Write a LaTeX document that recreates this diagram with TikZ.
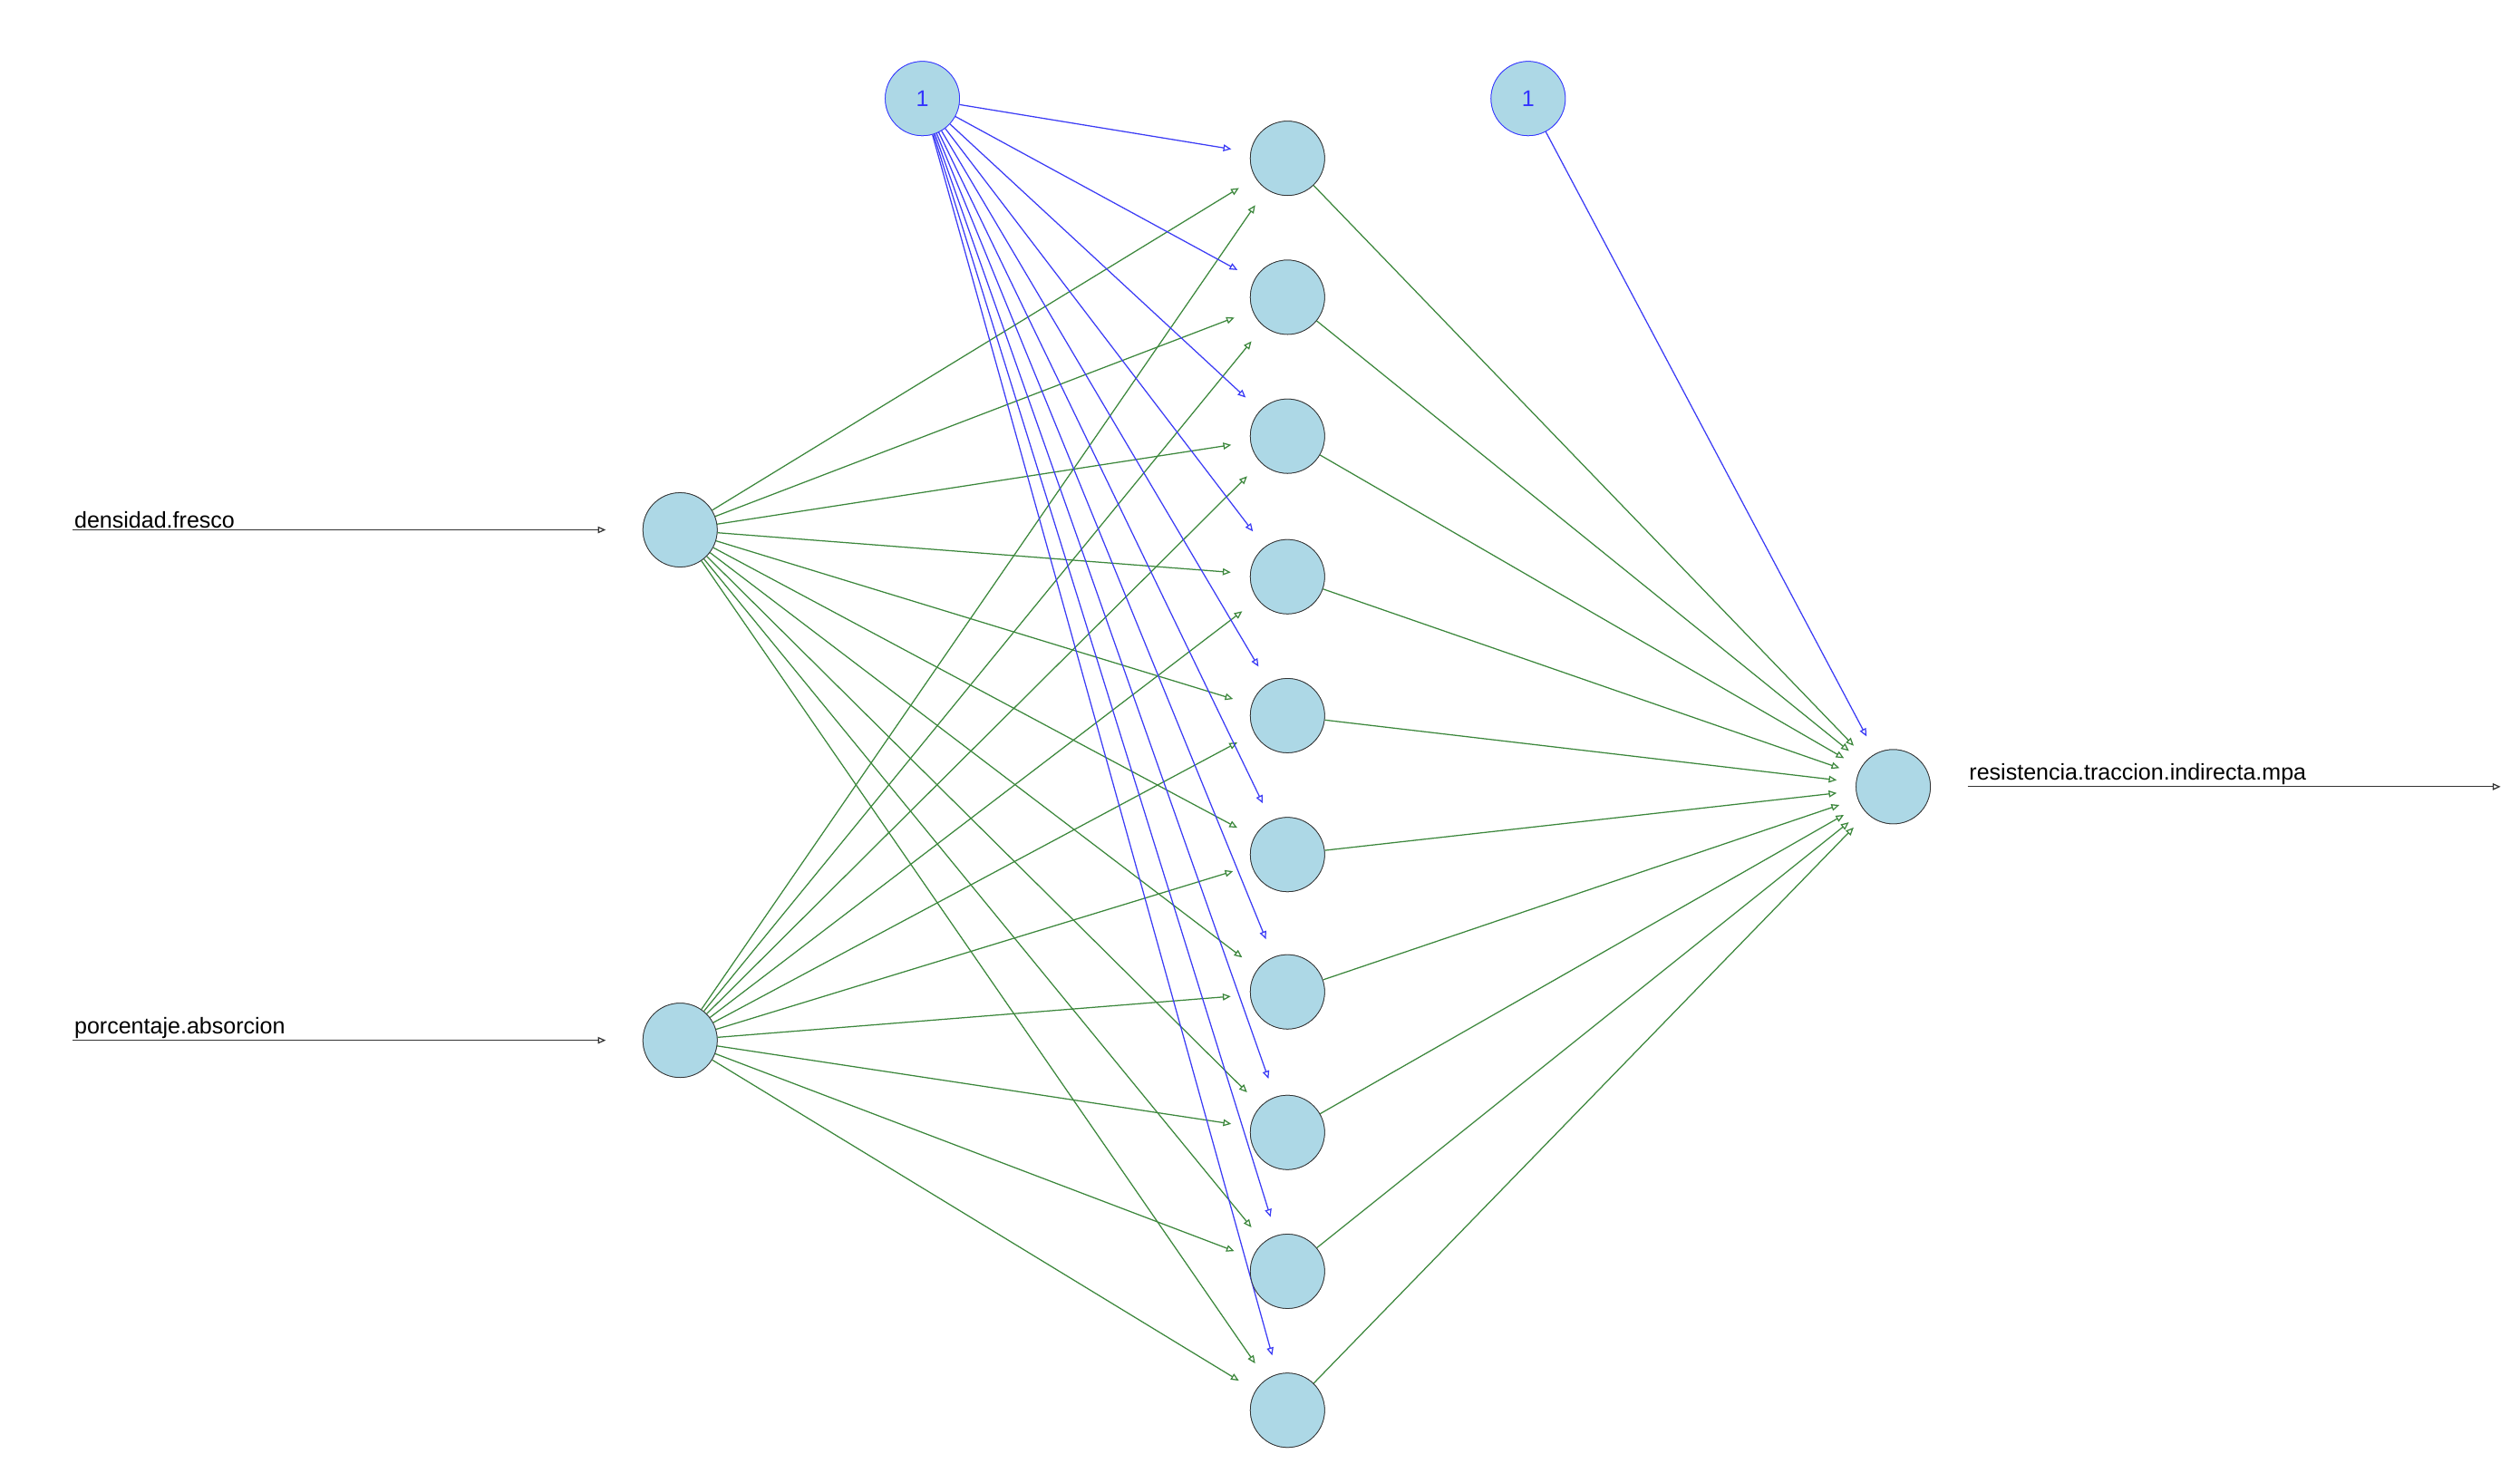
\documentclass[tikz,border=0pt]{standalone}
\usepackage{fontspec}
\setmainfont{Liberation Sans}
\usetikzlibrary{arrows.meta}
\begin{document}
\begin{tikzpicture}[x=0.1cm,y=-0.1cm,
  neuron/.style={circle,draw=black!80,fill=cyan!20!blue!10!white,fill=lbl,minimum size=4.6cm,inner sep=0pt,line width=1.2pt},
  biasn/.style={neuron,draw=blue!80,text=blue!80,font=\fontsize{40}{48}\selectfont},
  gedge/.style={draw=gcol,line width=2pt,-{Triangle[open,length=14pt,width=12pt]},shorten >=1.2cm},
  bedge/.style={draw=bcol,line width=2pt,-{Triangle[open,length=14pt,width=12pt]},shorten >=1.2cm},
  kedge/.style={draw=black!80,line width=2pt,-{Triangle[open,length=14pt,width=12pt]}},
  lab/.style={font=\fontsize{40}{48}\selectfont,anchor=south west,inner sep=2pt}]
\definecolor{lbl}{RGB}{173,216,230}
\definecolor{gcol}{RGB}{60,135,60}
\definecolor{bcol}{RGB}{60,60,245}
\useasboundingbox (0,0) rectangle (1560,918);
\node[neuron] (i1) at (421,328) {};
\node[neuron] (i2) at (421,644) {};
\foreach \k/\y in {1/98,2/184,3/270,4/357,5/443,6/529,7/614,8/701,9/787,10/873}
  \node[neuron] (h\k) at (797,\y) {};
\node[neuron] (o) at (1172,487) {};
\node[biasn] (b1) at (571,61) {1};
\node[biasn] (b2) at (946,61) {1};
\coordinate (l1) at (45,328);
\coordinate (l2) at (45,644);
\coordinate (e1) at (375,328);
\coordinate (e2) at (375,644);
\coordinate (oe) at (1548,487);
\coordinate (os) at (1218,487);
\draw[kedge] (l1) -- node[lab,pos=0,anchor=south west] {densidad.fresco} (e1);
\draw[kedge] (l2) -- node[lab,pos=0,anchor=south west] {porcentaje.absorcion} (e2);
\draw[kedge] (os) -- node[lab,pos=0,anchor=south west] {resistencia.traccion.indirecta.mpa} (oe);
\foreach \k in {1,...,10}{
  \draw[gedge] (i1) -- (h\k);
  \draw[gedge] (i2) -- (h\k);
  \draw[gedge] (h\k) -- (o);
  \draw[bedge] (b1) -- (h\k);
}
\draw[bedge] (b2) -- (o);
\foreach \n in {i1,i2,h1,h2,h3,h4,h5,h6,h7,h8,h9,h10,o}
  \node[neuron] at (\n) {};
\node[biasn] at (b1) {1};
\node[biasn] at (b2) {1};
\end{tikzpicture}
\end{document}
